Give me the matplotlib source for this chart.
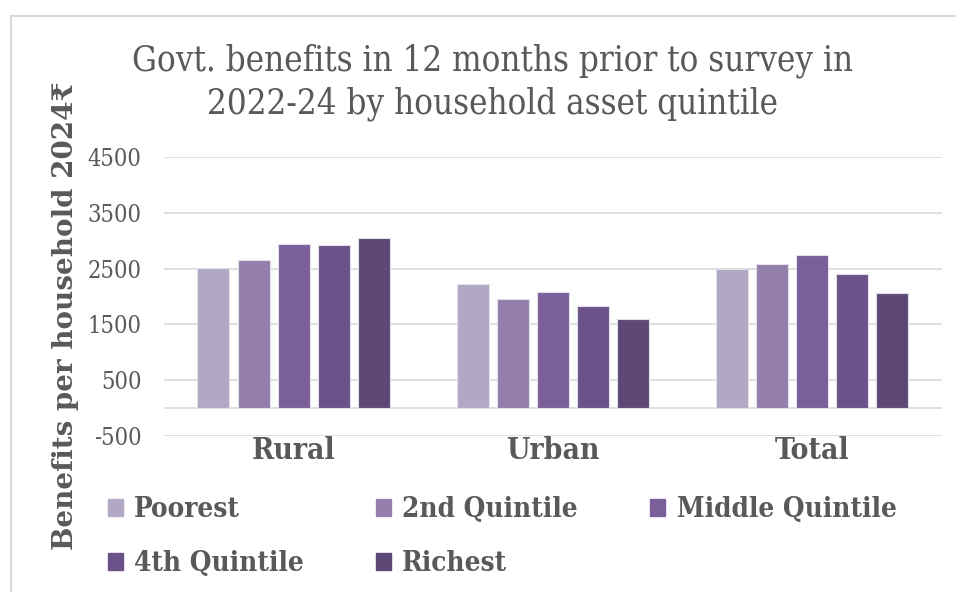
import numpy as np
import matplotlib
matplotlib.use("Agg")
import matplotlib.pyplot as plt
from matplotlib.lines import Line2D
from matplotlib.patches import Patch

plt.rcParams['font.family'] = ['DejaVu Serif']
plt.rcParams['font.stretch'] = 'condensed'

categories = ["Rural", "Urban", "Total"]
series = ["Poorest", "2nd Quintile", "Middle Quintile", "4th Quintile", "Richest"]
poorest = [2515, 2230, 2495]
second = [2655, 1960, 2590]
middle = [2935, 2085, 2740]
fourth = [2915, 1830, 2405]
richest = [3050, 1595, 2055]
values = [poorest, second, middle, fourth, richest]
colors = ["#B2A8C4", "#947FAC", "#7B5F99", "#6B5288", "#5D4876"]
yticks = [-500, 500, 1500, 2500, 3500, 4500]

txt = "#595959"
fig = plt.figure(figsize=(9.56, 5.92), dpi=100)
ax = fig.add_axes([0.1715, 0.2635, 0.8135, 0.4713])

x = np.arange(len(categories))
w = 0.1235
step = 0.1545
for i, (name, vals) in enumerate(zip(series, values)):
    ax.bar(x + (i - 2) * step, vals, width=w, color=colors[i],
           edgecolor="#E4E0EA", linewidth=0.8, label=name, zorder=3)

ax.set_ylim(-500, 4500)
ax.set_xlim(-0.5, 2.5)
ax.set_yticks(yticks)
ax.set_yticklabels([str(v) for v in yticks], fontsize=17, color=txt)
for v in yticks + [0]:
    ax.axhline(v, color="#D9D9D9", lw=1.2, zorder=1)
ax.set_xticks(x)
ax.set_xticklabels(categories, fontsize=21.5, fontweight="bold", color=txt)
ax.tick_params(axis="both", length=0)
ax.tick_params(axis="y", pad=16)
ax.tick_params(axis="x", pad=0)
for s in ax.spines.values():
    s.set_visible(False)

fig.text(0.515, 0.861, "Govt. benefits in 12 months prior to survey in\n2022-24 by household asset quintile",
         ha="center", va="center", fontsize=25, color=txt, linespacing=1.3)
fig.text(0.068, 0.466, "Benefits per household 2024\u20b9", rotation=90, ha="center", va="center",
         fontsize=20, fontweight="bold", color=txt, fontstretch="normal")

# legend filled row by row
order = [0, 3, 1, 4, 2]
handles = [Patch(facecolor=colors[i], edgecolor=colors[i]) for i in order]
labels = [series[i] for i in order]
leg = fig.legend(handles, labels, loc="upper left", bbox_to_anchor=(0.098, 0.185), ncol=3,
                 frameon=False, handlelength=0.55, handleheight=0.55, handletextpad=0.4,
                 columnspacing=2.6, labelspacing=0.97, borderpad=0,
                 prop={"size": 20, "weight": "bold", "stretch": "condensed"})
for t in leg.get_texts():
    t.set_color(txt)

# outer chart border
fig.add_artist(Line2D([0.011, 1.0], [0.973, 0.973], color="#D9D9D9", lw=1.5, transform=fig.transFigure))
fig.add_artist(Line2D([0.011, 0.011], [0.0, 0.973], color="#D9D9D9", lw=1.5, transform=fig.transFigure))

fig.savefig("out.png", dpi=100)
